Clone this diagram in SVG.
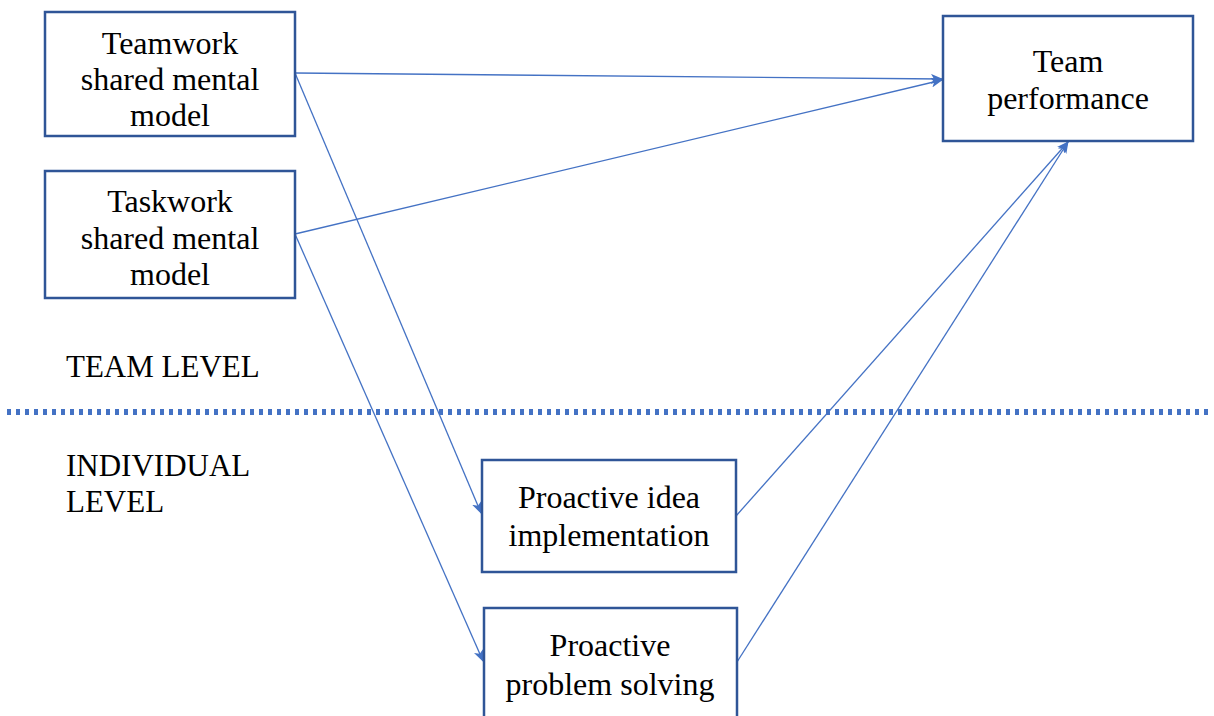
<svg xmlns="http://www.w3.org/2000/svg" width="1214" height="716" viewBox="0 0 1214 716">
<style>
.box{fill:#fff;stroke:#2F5597;stroke-width:2.5}
text{font-family:'Liberation Serif','Times New Roman',Times,serif;font-size:32px;fill:#000}
.t{text-anchor:middle}
.l{font-size:31px}
.c{stroke:#4472C4;stroke-width:1.3;fill:none;marker-end:url(#ah)}
</style>
<defs>
<marker id="ah" viewBox="0 0 12 10" refX="11" refY="5" markerWidth="12" markerHeight="10" markerUnits="userSpaceOnUse" orient="auto">
<path d="M0,0 L12,5 L0,10 L3,5 Z" fill="#4472C4"/>
</marker>
</defs>
<rect width="1214" height="716" fill="#fff"/>
<line x1="7" y1="412" x2="1212" y2="412" stroke="#4472C4" stroke-width="6" stroke-dasharray="4,5"/>
<g id="connectors">
<line class="c" x1="295" y1="73" x2="942" y2="79"/>
<line class="c" x1="295" y1="234" x2="942" y2="80"/>
<line class="c" x1="295" y1="73" x2="481" y2="513"/>
<line class="c" x1="295" y1="234" x2="483" y2="661"/>
<line class="c" x1="736" y1="516" x2="1068" y2="142"/>
<line class="c" x1="737" y1="662" x2="1068" y2="142"/>
</g>
<g id="teamwork">
<rect class="box" x="45" y="12" width="250" height="124"/>
<text class="t" x="170" y="54">Teamwork</text>
<text class="t" x="170" y="90">shared mental</text>
<text class="t" x="170" y="126">model</text>
</g>
<g id="taskwork">
<rect class="box" x="45" y="171" width="250" height="127"/>
<text class="t" x="170" y="212">Taskwork</text>
<text class="t" x="170" y="249">shared mental</text>
<text class="t" x="170" y="285">model</text>
</g>
<g id="team-performance">
<rect class="box" x="943" y="16" width="250" height="125"/>
<text class="t" x="1068" y="72">Team</text>
<text class="t" x="1068" y="109">performance</text>
</g>
<g id="idea">
<rect class="box" x="482" y="460" width="254" height="112"/>
<text class="t" x="609" y="508">Proactive idea</text>
<text class="t" x="609" y="546">implementation</text>
</g>
<g id="problem">
<rect class="box" x="484" y="608" width="253" height="120"/>
<text class="t" x="610" y="656">Proactive</text>
<text class="t" x="610" y="695">problem solving</text>
</g>
<g id="labels">
<text class="l" x="66" y="377">TEAM LEVEL</text>
<text class="l" x="66" y="476">INDIVIDUAL</text>
<text class="l" x="66" y="512">LEVEL</text>
</g>
</svg>
